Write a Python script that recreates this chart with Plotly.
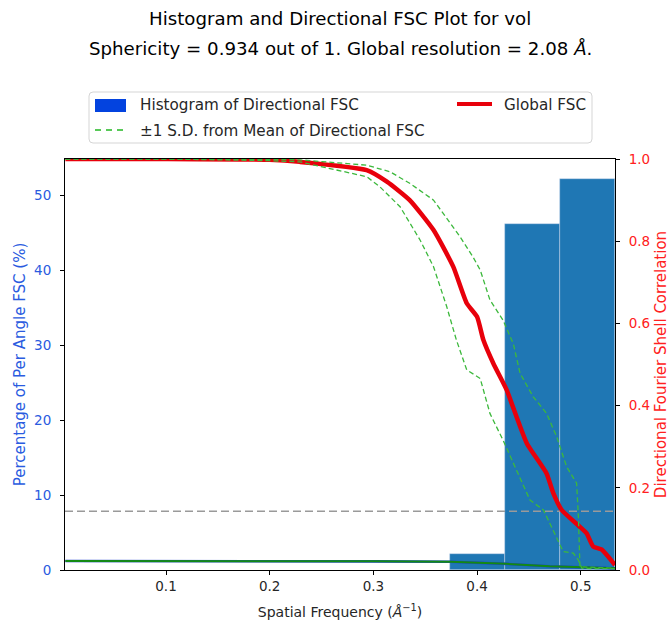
import plotly.graph_objects as go

# ---- data ----
hist_edges = [0.374, 0.427, 0.480, 0.533]
hist_percent = [2.1, 46.2, 52.1]

global_freq = [0.003, 0.10, 0.20, 0.229, 0.2935, 0.313, 0.335, 0.358, 0.377, 0.390, 0.400,
               0.406, 0.4156, 0.4285, 0.438, 0.448, 0.467, 0.4735, 0.4816, 0.4992, 0.5057,
               0.512, 0.520, 0.533]
global_fsc = [1.0, 1.0, 0.998, 0.993, 0.973, 0.945, 0.900, 0.827, 0.738, 0.649, 0.616,
              0.560, 0.503, 0.438, 0.373, 0.308, 0.235, 0.187, 0.146, 0.105, 0.089,
              0.057, 0.050, 0.012]

upper_freq = [0.003, 0.10, 0.20, 0.229, 0.2935, 0.316, 0.335, 0.358, 0.367, 0.3835, 0.396,
              0.403, 0.4124, 0.425, 0.435, 0.4414, 0.454, 0.467, 0.4768, 0.4864, 0.496,
              0.4977, 0.4992, 0.533]
upper_fsc = [1.0, 1.0, 0.999, 0.998, 0.985, 0.969, 0.941, 0.900, 0.868, 0.811, 0.762,
             0.730, 0.657, 0.608, 0.550, 0.479, 0.422, 0.381, 0.324, 0.251, 0.211,
             0.130, 0.008, 0.004]

lower_freq = [0.003, 0.10, 0.20, 0.229, 0.2935, 0.306, 0.3257, 0.345, 0.358, 0.3707, 0.380,
              0.390, 0.403, 0.4124, 0.425, 0.438, 0.451, 0.464, 0.483, 0.4928, 0.4977,
              0.501, 0.533]
lower_fsc = [1.0, 1.0, 0.996, 0.993, 0.957, 0.933, 0.884, 0.803, 0.738, 0.641, 0.560,
             0.487, 0.466, 0.381, 0.316, 0.243, 0.170, 0.146, 0.045, 0.041, 0.024,
             0.004, 0.003]

base_freq = [0.003, 0.10, 0.20, 0.30, 0.374, 0.428, 0.470, 0.499, 0.533]
base_val = [0.022, 0.022, 0.022, 0.021, 0.020, 0.015, 0.009, 0.006, 0.004]

threshold = 0.143
x_range = [0.0026, 0.533]
x_ticks = [0.1, 0.2, 0.3, 0.4, 0.5]
x_ticklabels = ["0.1", "0.2", "0.3", "0.4", "0.5"]
y_ticks = [0, 10, 20, 30, 40, 50]
y2_ticks = [0.0, 0.2, 0.4, 0.6, 0.8, 1.0]
y2_ticklabels = ["0.0", "0.2", "0.4", "0.6", "0.8", "1.0"]

legend_labels = ["Histogram of Directional FSC", "±1 S.D. from Mean of Directional FSC", "Global FSC"]
title_lines = ["Histogram and Directional FSC Plot for vol",
               "Sphericity = 0.934 out of 1. Global resolution = 2.08 <i>Å</i>."]

# ---- layout geometry (pixels) ----
W, H = 670, 627
L, R, T, B = 65, 55, 159, 57
PW, PH = W - L - R, H - T - B


def px(x):
    return (x - L) / PW


def py(y):
    return (H - B - y) / PH


centers = [(a + b) / 2 for a, b in zip(hist_edges[:-1], hist_edges[1:])]
widths = [b - a for a, b in zip(hist_edges[:-1], hist_edges[1:])]

FONT = "DejaVu Sans"
BLUE_T = "#2a5be0"
RED_T = "#ff2020"
fig = go.Figure()

fig.add_trace(go.Bar(x=centers, y=hist_percent, width=widths, yaxis="y",
                     marker=dict(color="#1f77b4", line=dict(color="rgba(200,215,235,0.8)", width=0.6)),
                     showlegend=False, name=legend_labels[0]))

fig.add_trace(go.Scatter(x=base_freq, y=base_val, yaxis="y2", mode="lines",
                         line=dict(color="#1f3fd0", width=2.6), showlegend=False))
fig.add_trace(go.Scatter(x=base_freq, y=base_val, yaxis="y2", mode="lines",
                         line=dict(color="#138a13", width=2), showlegend=False))

fig.add_trace(go.Scatter(x=x_range, y=[threshold, threshold], yaxis="y2", mode="lines",
                         line=dict(color="#9a9a9a", width=1.6, dash="8px,4px"), showlegend=False))

fig.add_trace(go.Scatter(x=global_freq, y=global_fsc, yaxis="y2", mode="lines",
                         line=dict(color="#e8000b", width=4.5, shape="spline", smoothing=0.5),
                         name=legend_labels[2], showlegend=False))

fig.add_trace(go.Scatter(x=upper_freq, y=upper_fsc, yaxis="y2", mode="lines",
                         line=dict(color="#3cb83c", width=1.3, dash="5px,3px"),
                         name=legend_labels[1], showlegend=False))
fig.add_trace(go.Scatter(x=lower_freq, y=lower_fsc, yaxis="y2", mode="lines",
                         line=dict(color="#3cb83c", width=1.3, dash="5px,3px"),
                         showlegend=False))

# ---- manual legend (matplotlib style, 2 columns) ----
bx0, bx1, by0, by1, rr = 89, 592, 92, 143, 4
rx, ry = rr / PW, rr / PH
X0, X1, Y0, Y1 = px(bx0), px(bx1), py(by1), py(by0)
box_path = (f"M {X0+rx},{Y0} L {X1-rx},{Y0} Q {X1},{Y0} {X1},{Y0+ry} "
            f"L {X1},{Y1-ry} Q {X1},{Y1} {X1-rx},{Y1} L {X0+rx},{Y1} "
            f"Q {X0},{Y1} {X0},{Y1-ry} L {X0},{Y0+ry} Q {X0},{Y0} {X0+rx},{Y0} Z")
shapes = [
    dict(type="path", xref="paper", yref="paper", path=box_path,
         fillcolor="rgba(255,255,255,0.9)", line=dict(color="#d5d5d5", width=1)),
    dict(type="rect", xref="paper", yref="paper", x0=px(95), x1=px(126), y0=py(112), y1=py(99),
         fillcolor="#0343df", line=dict(width=0)),
    dict(type="line", xref="paper", yref="paper", x0=px(95), x1=px(127), y0=py(130), y1=py(130),
         line=dict(color="#22b822", width=1.6, dash="6px,5px")),
    dict(type="line", xref="paper", yref="paper", x0=px(457), x1=px(492), y0=py(104), y1=py(104),
         line=dict(color="#e8000b", width=4)),
]
LEG_FONT = dict(family=FONT, size=15.2, color="#262626")
annotations = [
    dict(text=legend_labels[0], xref="paper", yref="paper", x=px(138), y=py(105),
         xanchor="left", yanchor="middle", showarrow=False, font=LEG_FONT),
    dict(text=legend_labels[1], xref="paper", yref="paper", x=px(138), y=py(131),
         xanchor="left", yanchor="middle", showarrow=False, font=LEG_FONT),
    dict(text=legend_labels[2], xref="paper", yref="paper", x=px(502), y=py(105),
         xanchor="left", yanchor="middle", showarrow=False, font=LEG_FONT),
    dict(text=title_lines[0], xref="paper", yref="paper", x=0.5, y=py(18),
         xanchor="center", yanchor="middle", showarrow=False,
         font=dict(family=FONT, size=18.2, color="black")),
    dict(text=title_lines[1], xref="paper", yref="paper", x=0.5, y=py(48),
         xanchor="center", yanchor="middle", showarrow=False,
         font=dict(family=FONT, size=18.2, color="black")),
]

fig.update_layout(
    width=W, height=H,
    margin=dict(l=L, r=R, t=T, b=B, autoexpand=False),
    paper_bgcolor="white", plot_bgcolor="white",
    font=dict(family=FONT, size=13.5, color="#262626"),
    showlegend=False,
    bargap=0,
    xaxis=dict(range=x_range, tickvals=x_ticks, ticktext=x_ticklabels,
               showgrid=False, zeroline=False, showline=True, linecolor="black", linewidth=1,
               mirror=True, ticks="outside", ticklen=4, tickcolor="black",
               title=dict(text="Spatial Frequency (<i>Å</i><sup>−1</sup>)", font=dict(size=14), standoff=13)),
    yaxis=dict(range=[0, 54.8], tickvals=y_ticks, showgrid=False, zeroline=False,
               showline=True, linecolor="black", linewidth=1, ticks="outside", ticklen=4,
               tickcolor="black", tickfont=dict(color=BLUE_T), ticklabelstandoff=6,
               title=dict(text="Percentage of Per Angle FSC (%)", font=dict(color=BLUE_T, size=15), standoff=4)),
    yaxis2=dict(range=[0, 1], tickvals=y2_ticks, ticktext=y2_ticklabels, overlaying="y", side="right",
                showgrid=False, zeroline=False, showline=True, linecolor="black", linewidth=1,
                ticks="outside", ticklen=4, tickcolor="black", tickfont=dict(color=RED_T),
                ticklabelstandoff=6,
                title=dict(text="Directional Fourier Shell Correlation", font=dict(color=RED_T, size=15), standoff=7)),
    shapes=shapes,
    annotations=annotations,
)

fig.write_html("out.html", config={"displayModeBar": False},
               post_script="document.body.style.margin='0';document.body.style.overflow='hidden';")
